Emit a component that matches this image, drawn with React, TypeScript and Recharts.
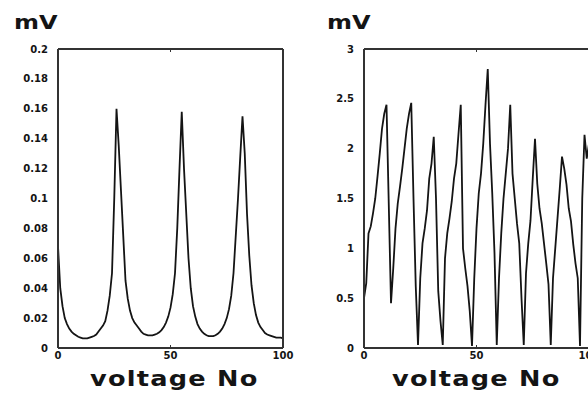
import { LineChart, Line, XAxis, YAxis } from 'recharts'

// x positions (voltage No)
const voltageNo = Array.from({ length: 101 }, (_, i) => i)

// left panel, mV
const leftValues = [
  0.068, 0.04, 0.028, 0.02, 0.016, 0.013, 0.011, 0.0095, 0.0085, 0.0075,
  0.007, 0.0065, 0.0065, 0.0065, 0.007, 0.0075, 0.008, 0.009, 0.011, 0.013,
  0.015, 0.018, 0.025, 0.035, 0.05, 0.1, 0.16, 0.135, 0.105, 0.075,
  0.045, 0.033, 0.025, 0.02, 0.017, 0.015, 0.013, 0.011, 0.0095, 0.009,
  0.0085, 0.0085, 0.0085, 0.009, 0.0095, 0.0105, 0.012, 0.014, 0.017, 0.021,
  0.027, 0.036, 0.05, 0.08, 0.12, 0.158, 0.12, 0.09, 0.06, 0.04,
  0.028, 0.021, 0.016, 0.013, 0.011, 0.0095, 0.0085, 0.008, 0.008, 0.008,
  0.0085, 0.0095, 0.011, 0.013, 0.016, 0.02, 0.026, 0.035, 0.05, 0.075,
  0.1, 0.128, 0.155, 0.13, 0.09, 0.062, 0.042, 0.03, 0.022, 0.017,
  0.014, 0.012, 0.01, 0.009, 0.0085, 0.008, 0.0075, 0.007, 0.007, 0.007,
  0.0065,
]

// right panel, mV
const rightValues = [
  0.5, 0.65, 1.15, 1.22, 1.35, 1.5, 1.72, 1.95, 2.2, 2.35,
  2.44, 1.45, 0.45, 0.8, 1.2, 1.45, 1.62, 1.8, 2.0, 2.2,
  2.35, 2.46, 1.5, 0.62, 0.03, 0.7, 1.05, 1.2, 1.38, 1.7,
  1.85, 2.12, 1.5, 0.57, 0.27, 0.03, 0.9, 1.15, 1.3, 1.47,
  1.7, 1.85, 2.15, 2.44, 1.0, 0.8, 0.62, 0.37, 0.02, 0.7,
  1.2, 1.55, 1.75, 2.05, 2.44, 2.8, 2.05, 1.55, 0.95, 0.03,
  0.7, 1.15, 1.5, 1.75, 2.0, 2.44, 1.75, 1.5, 1.25, 1.05,
  0.5, 0.03, 0.75, 1.05, 1.28, 1.7, 2.1, 1.65, 1.4, 1.25,
  1.05, 0.85, 0.64, 0.03, 0.7, 1.0, 1.3, 1.6, 1.92, 1.8,
  1.64, 1.4, 1.27, 1.04, 0.85, 0.7, 0.02, 1.5, 2.14, 1.9,
  2.05,
]

const xTicks = [0, 50, 100]
const leftYTicks = [0, 0.02, 0.04, 0.06, 0.08, 0.1, 0.12, 0.14, 0.16, 0.18, 0.2]
const rightYTicks = [0, 0.5, 1, 1.5, 2, 2.5, 3]

const leftData = voltageNo.map((x, i) => ({ x, v: leftValues[i] }))
const rightData = voltageNo.map((x, i) => ({ x, v: rightValues[i] }))

const INK = '#141414'
const tickStyle = {
  fill: INK,
  fontSize: 10,
  fontWeight: 700,
  fontFamily: 'DejaVu Sans, sans-serif',
}
const frame = { stroke: '#333', strokeWidth: 2 }
const hidden = { fill: 'transparent', fontSize: 1 }

function Panel({
  data,
  yTicks,
  yMax,
  axisWidth,
  marginRight,
}: {
  data: { x: number; v: number }[]
  yTicks: number[]
  yMax: number
  axisWidth: number
  marginRight: number
}) {
  return (
    <LineChart
      width={axisWidth + 225 + marginRight}
      height={394}
      data={data}
      margin={{ top: 49, right: marginRight, bottom: 26, left: 0 }}
    >
      <XAxis
        dataKey="x"
        type="number"
        domain={[0, 100]}
        ticks={xTicks}
        interval={0}
        height={20}
        axisLine={frame}
        tickLine={false}
        tickSize={0}
        tickMargin={4}
        tick={tickStyle}
      />
      <XAxis
        xAxisId="bin"
        type="number"
        domain={[0, 100]}
        ticks={[50]}
        mirror
        axisLine={false}
        tickLine={{ stroke: '#333' }}
        tickSize={3}
        tick={hidden}
      />
      <XAxis
        xAxisId="top"
        orientation="top"
        type="number"
        domain={[0, 100]}
        ticks={[50]}
        mirror
        axisLine={frame}
        tickLine={{ stroke: '#333' }}
        tickSize={3}
        tick={hidden}
      />
      <YAxis
        type="number"
        domain={[0, yMax]}
        ticks={yTicks}
        interval={0}
        width={axisWidth}
        axisLine={frame}
        tickLine={false}
        tickSize={0}
        tickMargin={10}
        tick={tickStyle}
      />
      <YAxis
        yAxisId="lin"
        type="number"
        domain={[0, yMax]}
        ticks={yTicks}
        mirror
        axisLine={false}
        tickLine={{ stroke: '#333' }}
        tickSize={3}
        tick={hidden}
      />
      <YAxis
        yAxisId="right"
        orientation="right"
        type="number"
        domain={[0, yMax]}
        ticks={yTicks}
        mirror
        axisLine={frame}
        tickLine={{ stroke: '#333' }}
        tickSize={3}
        tick={hidden}
      />
      <Line
        type="linear"
        dataKey="v"
        stroke={INK}
        strokeWidth={1.8}
        dot={false}
        isAnimationActive={false}
      />
    </LineChart>
  )
}

const labelFont = {
  position: 'absolute' as const,
  fontFamily: 'DejaVu Sans, sans-serif',
  fontWeight: 700,
  color: INK,
  whiteSpace: 'nowrap' as const,
  transformOrigin: 'left top',
}

export default function App() {
  return (
    <div
      style={{
        position: 'absolute',
        left: 0,
        top: 0,
        width: 588,
        height: 394,
        background: '#fff',
        overflow: 'hidden',
      }}
    >
      <div style={{ position: 'absolute', left: 0, top: 0 }}>
        <Panel data={leftData} yTicks={leftYTicks} yMax={0.2} axisWidth={58} marginRight={17} />
      </div>
      <div style={{ position: 'absolute', left: 300, top: 0 }}>
        <Panel data={rightData} yTicks={rightYTicks} yMax={3} axisWidth={64} marginRight={0} />
      </div>

      <div style={{ ...labelFont, left: 14, top: 10, fontSize: 20, transform: 'scaleX(1.2)' }}>mV</div>
      <div style={{ ...labelFont, left: 327, top: 10, fontSize: 20, transform: 'scaleX(1.2)' }}>mV</div>

      <div style={{ ...labelFont, left: 90, top: 367, fontSize: 21, letterSpacing: 1, transform: 'scaleX(1.22)' }}>
        voltage No
      </div>
      <div style={{ ...labelFont, left: 392, top: 367, fontSize: 21, letterSpacing: 1, transform: 'scaleX(1.22)' }}>
        voltage No
      </div>
    </div>
  )
}
